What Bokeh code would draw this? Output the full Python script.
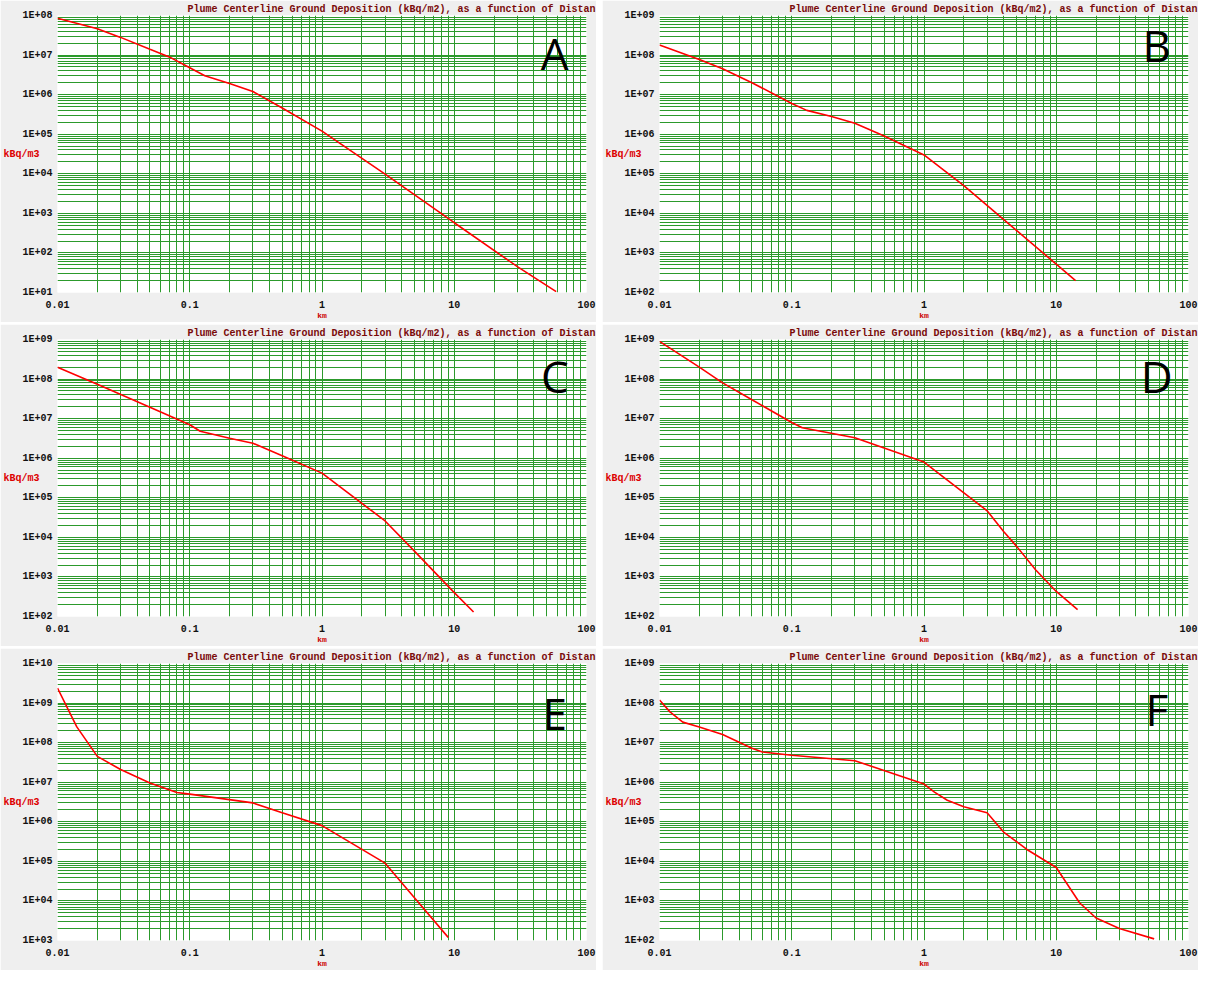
from bokeh.plotting import figure
from bokeh.layouts import row, column
from bokeh.models import Range1d, FixedTicker, CustomJSTickFormatter, Label
from bokeh.embed import file_html
from bokeh.resources import INLINE

TITLE = "Plume Centerline Ground Deposition (kBq/m2), as a function of Distan"
X_LABEL = "km"
Y_LABEL = "kBq/m3"

# Panel data (distance km, deposition)
A_x = [0.01, 0.02, 0.03, 0.05, 0.07, 0.1, 0.13, 0.2, 0.3, 0.5, 1, 3, 10, 30, 59]
A_y = [8.5e7, 4.6e7, 2.8e7, 1.4e7, 9e6, 4.8e6, 3.0e6, 1.9e6, 1.2e6, 4.6e5, 1.2e5, 9.8e3, 5.8e2, 4.5e1, 1.05e1]

B_x = [0.01, 0.02, 0.03, 0.05, 0.1, 0.13, 0.2, 0.3, 0.5, 1, 2, 5, 10, 14]
B_y = [1.8e8, 7.7e7, 4.5e7, 2e7, 6e6, 4e6, 2.8e6, 1.9e6, 9e5, 3e5, 5e4, 3.7e3, 5.2e2, 2e2]

C_x = [0.01, 0.02, 0.05, 0.1, 0.12, 0.2, 0.3, 0.5, 1, 3, 5, 10, 14]
C_y = [2e8, 7.4e7, 1.95e7, 7e6, 4.8e6, 3.2e6, 2.4e6, 1.15e6, 4.2e5, 2.6e4, 4.5e3, 4e2, 1.3e2]

D_x = [0.01, 0.02, 0.03, 0.05, 0.1, 0.12, 0.3, 1, 3, 4, 5, 7, 10, 14.5]
D_y = [9e8, 2e8, 8e7, 3e7, 8e6, 5.9e6, 3.3e6, 8e5, 4.7e4, 1.4e4, 6e3, 1.5e3, 4.3e2, 1.5e2]

E_x = [0.01, 0.012, 0.014, 0.02, 0.03, 0.05, 0.08, 0.1, 0.3, 0.5, 1, 3, 5, 9]
E_y = [2.4e9, 7e8, 2.5e8, 4.5e7, 2.1e7, 9.5e6, 5.5e6, 5e6, 3e6, 1.7e6, 8e5, 9e4, 1.2e4, 1.2e3]

F_x = [0.01, 0.012, 0.015, 0.02, 0.03, 0.05, 0.06, 0.1, 0.3, 1, 1.2, 1.5, 2, 3, 4, 6, 10, 15, 20, 30, 55]
F_y = [1.2e8, 6e7, 3.3e7, 2.5e7, 1.6e7, 7.2e6, 5.8e6, 4.8e6, 3.5e6, 9e5, 5.6e5, 3.5e5, 2.4e5, 1.7e5, 5.5e4, 2e4, 7e3, 9e2, 3.7e2, 2e2, 1.1e2]

# (letter, x, y, y-axis decade min, y-axis decade max, letter height fraction)
PANELS = [
    ("A", A_x, A_y, 1, 8, 0.136),
    ("B", B_x, B_y, 2, 9, 0.105),
    ("C", C_x, C_y, 2, 9, 0.13),
    ("D", D_x, D_y, 2, 9, 0.13),
    ("E", E_x, E_y, 3, 10, 0.18),
    ("F", F_x, F_y, 2, 9, 0.165),
]
X_MIN_EXP, X_MAX_EXP = -2, 2

GREEN = "#2c9a2c"
MONO = "Liberation Mono"


def log_ticker(lo, hi):
    majors = [10.0 ** k for k in range(lo, hi + 1)]
    minors = [m * 10.0 ** k for k in range(lo, hi) for m in range(2, 10)]
    return FixedTicker(ticks=majors, minor_ticks=minors)


def make(letter, xs, ys, ylo, yhi, lfrac):
    p = figure(width=596, height=322, x_axis_type="log", y_axis_type="log",
               x_range=Range1d(10.0 ** X_MIN_EXP, 10.0 ** X_MAX_EXP),
               y_range=Range1d(10.0 ** ylo, 10.0 ** yhi),
               output_backend="svg", toolbar_location=None,
               min_border_left=54, min_border_right=10, min_border_top=0,
               min_border_bottom=0, min_border=0,
               background_fill_color="white", border_fill_color="#efefef",
               outline_line_color=None)
    p.title.text = TITLE
    p.title.align = "right"
    p.title.offset = -9
    p.title.standoff = 2
    p.title.text_font = MONO
    p.title.text_font_size = "10px"
    p.title.text_font_style = "bold"
    p.title.text_color = "#7a0a0a"

    p.xaxis.ticker = log_ticker(X_MIN_EXP, X_MAX_EXP)
    p.yaxis.ticker = log_ticker(ylo, yhi)
    p.xaxis.formatter = CustomJSTickFormatter(code="""
        const e = Math.round(Math.log10(tick));
        return e < 0 ? tick.toFixed(-e) : String(Math.round(tick));""")
    p.yaxis.formatter = CustomJSTickFormatter(code="""
        const e = Math.round(Math.log10(tick));
        return '1E+' + (e < 10 ? '0' : '') + e;""")
    for ax in (p.xaxis, p.yaxis):
        ax.axis_line_color = None
        ax.major_tick_line_color = None
        ax.minor_tick_line_color = None
        ax.major_tick_out = 0
        ax.major_tick_in = 0
        ax.minor_tick_out = 0
        ax.minor_tick_in = 0
        ax.major_label_text_font = MONO
        ax.major_label_text_font_style = "bold"
        ax.major_label_text_font_size = "10px"
        ax.major_label_text_color = "#111111"
    p.yaxis.major_label_standoff = 5
    p.xaxis.major_label_standoff = 8
    p.xaxis.axis_label = X_LABEL
    p.xaxis.axis_label_text_font = MONO
    p.xaxis.axis_label_text_font_size = "8px"
    p.xaxis.axis_label_text_font_style = "bold"
    p.xaxis.axis_label_text_color = "#cc0000"
    p.xaxis.axis_label_standoff = 0

    yax = p.yaxis[0]
    if "axis_label_orientation" in yax.properties():
        yax.axis_label = Y_LABEL
        yax.axis_label_orientation = "horizontal"
        yax.axis_label_standoff = -20
        yax.axis_label_text_font = MONO
        yax.axis_label_text_font_size = "10px"
        yax.axis_label_text_font_style = "bold"
        yax.axis_label_text_color = "#dd0000"
    else:
        p.add_layout(Label(x=1, y=150, x_units="screen", y_units="screen",
                           text=Y_LABEL, text_font=MONO,
                           text_font_size="10px", text_font_style="bold",
                           text_color="#dd0000", text_baseline="middle",
                           text_align="left"))

    for g in (p.xgrid, p.ygrid):
        g.grid_line_color = GREEN
        g.minor_grid_line_color = GREEN
        g.grid_line_width = 1
        g.minor_grid_line_width = 1

    p.line(xs, ys, line_color="#ff0000", line_width=1.6)

    p.add_layout(Label(x=10.0 ** 1.76, y=10.0 ** (yhi - lfrac * (yhi - ylo)),
                       text=letter, text_font="Open Sans",
                       text_font_size="44px", text_color="black",
                       text_baseline="middle", text_align="center"))
    return p


figs = [make(*pn) for pn in PANELS]
layout = column(row(figs[0], figs[1], spacing=6),
                row(figs[2], figs[3], spacing=6),
                row(figs[4], figs[5], spacing=6), spacing=2)

open("out.html", "w").write(file_html(layout, INLINE))
